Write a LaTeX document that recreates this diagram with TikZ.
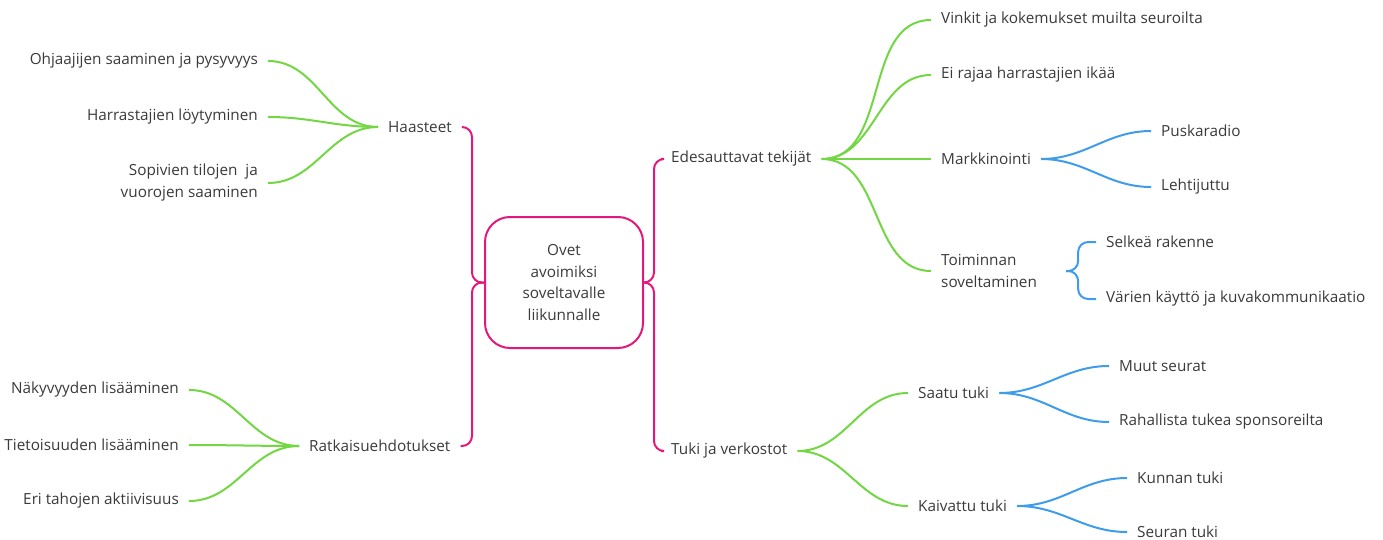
\documentclass[tikz,border=0pt]{standalone}
\usepackage{fontspec}
\setmainfont{Open Sans}
\usepackage{tikz}
\usetikzlibrary{calc}
\usepackage{xcolor}
\definecolor{rootpink}{HTML}{E4187A}
\definecolor{leafgreen}{HTML}{72D743}
\definecolor{twigblue}{HTML}{3E9CEA}
\definecolor{inkgray}{HTML}{3A3A3A}

\tikzset{
  topic/.style={inner xsep=10pt,inner ysep=2pt,text=inkgray,font=\fontsize{15.3}{22}\selectfont},
  core/.style={draw=rootpink,line width=2pt,rounded corners=25pt,minimum width=158pt,
    minimum height=131pt,align=center,text=inkgray,font=\fontsize{15.3}{21.7}\selectfont},
  trunk/.style={draw=rootpink,line width=2pt,rounded corners=10pt},
  branch/.style={draw=leafgreen,line width=2pt},
  twig/.style={draw=twigblue,line width=2pt},
}

\begin{document}
\begin{tikzpicture}[x=1pt,y=-1pt]
  \useasboundingbox (0,0) rectangle (1383,540);
  % keskus
  \node[core] (ovet) at (564,282.5) {Ovet\\avoimiksi\\soveltavalle\\liikunnalle};
  % paahaarat
  \node[topic,anchor=west] (haas) at (378,127) {Haasteet};
  \node[topic,anchor=west] (ratk) at (299,446) {Ratkaisuehdotukset};
  \node[topic,anchor=west] (edes) at (661,159) {Edesauttavat tekijät};
  \node[topic,anchor=west] (tuki) at (661,451) {Tuki ja verkostot};
  \coordinate (ovl) at ([xshift=-12]ovet.west);
  \coordinate (ovr) at ([xshift=10]ovet.east);
  \draw[trunk] (ovet.west) -- (ovl) |- (haas.east);
  \draw[trunk] (ovet.west) -- (ovl) |- (ratk.east);
  \draw[trunk] (ovet.east) -- (ovr) |- (edes.west);
  \draw[trunk] (ovet.east) -- (ovr) |- (tuki.west);
  % haasteet
  \node[topic,anchor=east] (ohja) at (268,61) {Ohjaajijen saaminen ja pysyvyys};
  \node[topic,anchor=east] (harr) at (268,117) {Harrastajien löytyminen};
  \node[topic,anchor=east,align=right] (tila) at (268,183) {Sopivien tilojen~ ja\\vuorojen saaminen};
  \foreach \k in {ohja,harr,tila}
    \draw[branch] (\k.east) to[out=0,in=180] (haas.west);
  % ratkaisuehdotukset
  \node[topic,anchor=east] (naky) at (189,390) {Näkyvyyden lisääminen};
  \node[topic,anchor=east] (tiet) at (189,445) {Tietoisuuden lisääminen};
  \node[topic,anchor=east] (akti) at (189,501) {Eri tahojen aktiivisuus};
  \foreach \k in {naky,tiet,akti}
    \draw[branch] (\k.east) to[out=0,in=180] (ratk.west);
  % edesauttavat tekijat
  \node[topic,anchor=west] (vink) at (931,20) {Vinkit ja kokemukset muilta seuroilta};
  \node[topic,anchor=west] (ika) at (931,75) {Ei rajaa harrastajien ikää};
  \node[topic,anchor=west] (mark) at (931,159) {Markkinointi};
  \node[topic,anchor=west,align=left] (toim) at (931,271) {Toiminnan\\soveltaminen};
  \foreach \k in {vink,ika,mark,toim}
    \draw[branch] (edes.east) to[out=0,in=180] (\k.west);
  \node[topic,anchor=west] (pusk) at (1151,131) {Puskaradio};
  \node[topic,anchor=west] (leht) at (1151,187) {Lehtijuttu};
  \foreach \k in {pusk,leht}
    \draw[twig] (mark.east) to[out=0,in=180] (\k.west);
  \node[topic,anchor=west] (selk) at (1096,242) {Selkeä rakenne};
  \node[topic,anchor=west] (vari) at (1096,299) {Värien käyttö ja kuvakommunikaatio};
  \coordinate (toit) at ([xshift=19]toim.east);
  \coordinate (toib) at ([xshift=31]toim.east);
  \draw[twig,rounded corners=10pt] (toit) -- (toib) |- (selk.west);
  \draw[twig,rounded corners=10pt] (toit) -- (toib) |- (vari.west);
  % tuki ja verkostot
  \node[topic,anchor=west] (saat) at (908,393) {Saatu tuki};
  \node[topic,anchor=west] (kaiv) at (908,506) {Kaivattu tuki};
  \foreach \k in {saat,kaiv}
    \draw[branch] (tuki.east) to[out=0,in=180] (\k.west);
  \node[topic,anchor=west] (muut) at (1109,366) {Muut seurat};
  \node[topic,anchor=west] (raha) at (1109,422) {Rahallista tukea sponsoreilta};
  \foreach \k in {muut,raha}
    \draw[twig] (saat.east) to[out=0,in=180] (\k.west);
  \node[topic,anchor=west] (kunn) at (1127,478) {Kunnan tuki};
  \node[topic,anchor=west] (seur) at (1127,532) {Seuran tuki};
  \foreach \k in {kunn,seur}
    \draw[twig] (kaiv.east) to[out=0,in=180] (\k.west);
\end{tikzpicture}
\end{document}
